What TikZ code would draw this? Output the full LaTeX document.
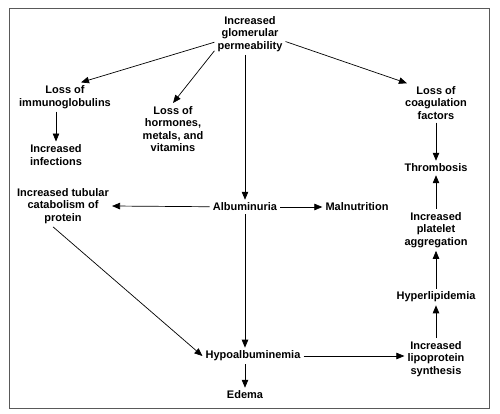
\documentclass[tikz,border=0pt]{standalone}
\usepackage{fontspec}
\setmainfont{Liberation Sans}
\usetikzlibrary{arrows.meta}

\begin{document}
\begin{tikzpicture}[x=1pt, y=-1pt,
  lbl/.style={align=center, font=\fontsize{11}{12.5}\selectfont\bfseries, inner sep=3pt},
  arr/.style={-{Triangle[length=8pt,width=6.5pt]}, line width=0.7pt}]
  \useasboundingbox (0,0) rectangle (500,414);
  \draw[black!65, line width=0.9pt] (9,8) rectangle (489,408);
  % top
  \node[lbl] (perm) at (250,34) {Increased\\glomerular\\permeability};
  % left branch
  \node[lbl] (imm) at (65,97) {Loss of\\immunoglobulins};
  \node[lbl] (inf) at (56,155) {Increased\\infections};
  \node[lbl] (horm) at (173,129) {Loss of\\hormones,\\metals, and\\vitamins};
  \node[lbl] (tub) at (63,206) {Increased tubular\\catabolism of\\protein};
  % middle
  \node[lbl] (alb) at (245,207) {Albuminuria};
  \node[lbl] (mal) at (357,207) {Malnutrition};
  \node[lbl] (hypo) at (253,356) {Hypoalbuminemia};
  \node[lbl] (edema) at (245,395) {Edema};
  % right column
  \node[lbl] (coag) at (436,103) {Loss of\\coagulation\\factors};
  \node[lbl] (thromb) at (436,168) {Thrombosis};
  \node[lbl] (plat) at (436,230) {Increased\\platelet\\aggregation};
  \node[lbl] (hyper) at (436,297) {Hyperlipidemia};
  \node[lbl] (lipo) at (436,359) {Increased\\lipoprotein\\synthesis};

  \draw[arr] (perm.193) -- ([xshift=16pt]imm.north);
  \draw[arr] ([yshift=4pt]perm.south west) -- (horm.north);
  \draw[arr] (perm.south -| alb.north) -- (alb.north);
  \draw[arr] (perm.-12) -- ([xshift=5pt]coag.north west);
  \draw[arr] (inf.north |- imm.south) -- (inf.north);
  \draw[arr] (coag) -- (thromb);
  \draw[arr] (alb) -- (tub.east);
  \draw[arr] (alb) -- (mal);
  \draw[arr] (alb) -- (alb.south |- hypo.north);
  \draw[arr] ([xshift=-10pt]tub.south) -- (hypo.west);
  \draw[arr] (hypo) -- (hypo.east -| lipo.west);
  \draw[arr] (edema.north |- hypo.south) -- (edema);
  \draw[arr] (lipo) -- (hyper);
  \draw[arr] (hyper) -- (plat);
  \draw[arr] (plat) -- (thromb);
\end{tikzpicture}
\end{document}
